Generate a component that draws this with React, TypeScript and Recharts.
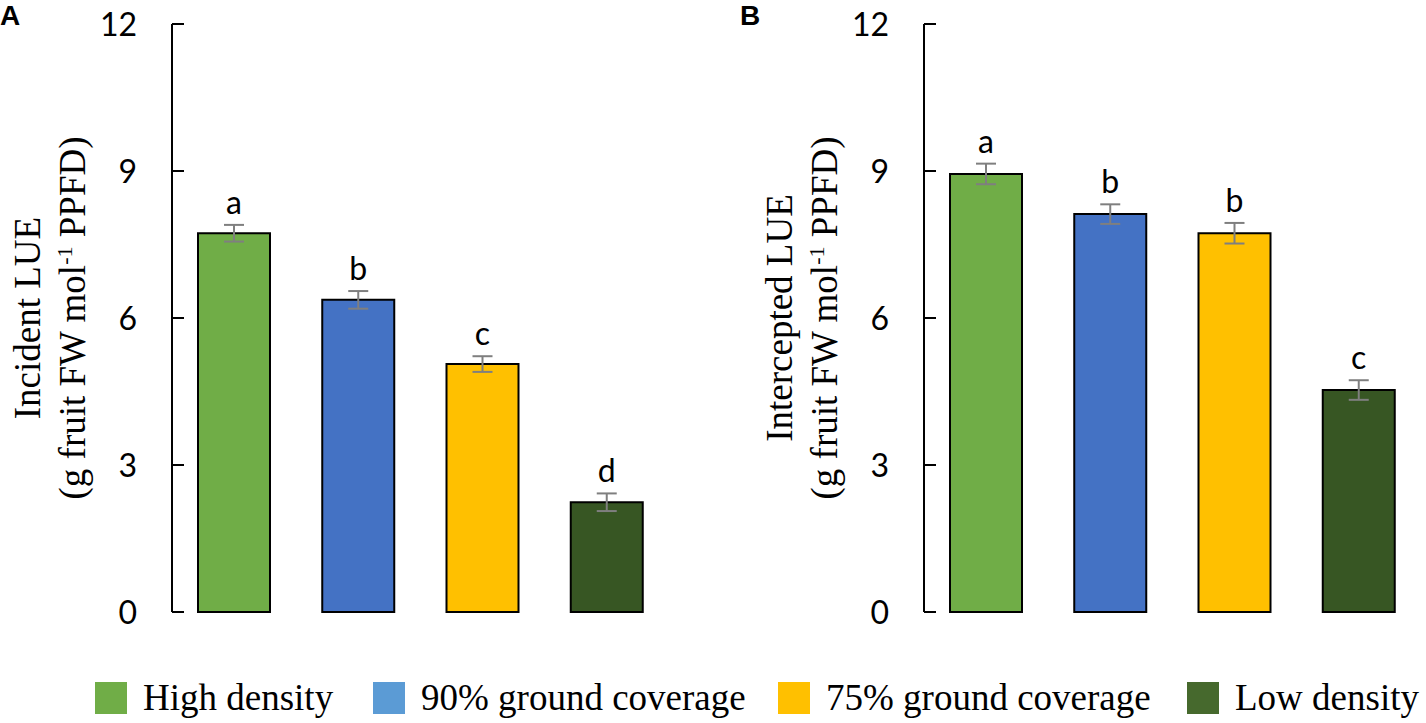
import { Bar, BarChart, Cell, ErrorBar, LabelList, XAxis, YAxis } from "recharts";

const categories = ["High density", "90% ground coverage", "75% ground coverage", "Low density"];
const barColors = ["#70ad47", "#4472c4", "#ffc000", "#375623"];
const legendColors = ["#70ad47", "#5b9bd5", "#ffc000", "#46692d"];

const incidentLue = [7.73, 6.37, 5.06, 2.24];
const incidentErr = [0.17, 0.18, 0.16, 0.18];
const incidentLetters = ["a", "b", "c", "d"];

const interceptedLue = [8.94, 8.12, 7.73, 4.53];
const interceptedErr = [0.21, 0.2, 0.21, 0.2];
const interceptedLetters = ["a", "b", "b", "c"];

const yTicks = [0, 3, 6, 9, 12];

const SANS = "Lato, 'Open Sans', sans-serif";
const SERIF = "'Liberation Serif', 'DejaVu Serif', serif";

type Row = { name: string; value: number; err: number; letter: string };

function buildRows(values: number[], errs: number[], letters: string[]): Row[] {
  return categories.map((name, i) => ({ name, value: values[i], err: errs[i], letter: letters[i] }));
}

function InwardTick(props: any) {
  const { x, y, payload } = props;
  return (
    <g>
      <line x1={x} x2={x + 12} y1={y} y2={y} stroke="#000" strokeWidth={2} />
      <text x={x - 35} y={y} dy="0.36em" textAnchor="end" fontFamily={SANS} fontSize={32} fill="#000">
        {payload.value}
      </text>
    </g>
  );
}

function Panel({ rows, title }: { rows: Row[]; title: string }) {
  const renderLetter = (props: any) => {
    const { x, y, width, height, index } = props;
    const row = rows[index];
    const pxPerUnit = Number(height) / row.value;
    const errTop = Number(y) - row.err * pxPerUnit;
    return (
      <text
        x={Number(x) + Number(width) / 2}
        y={errTop - 11}
        textAnchor="middle"
        fontFamily={SANS}
        fontSize={32}
        fill="#000"
      >
        {row.letter}
      </text>
    );
  };

  const renderTitle = (props: any) => {
    const { viewBox } = props;
    const cy = viewBox.y + viewBox.height / 2;
    return (
      <g fontFamily={SERIF} fontSize={37} fill="#000">
        <text x={40} y={cy} textAnchor="middle" transform={`rotate(-90 40 ${cy})`}>
          {title}
        </text>
        <text x={85} y={cy} textAnchor="middle" transform={`rotate(-90 85 ${cy})`}>
          (g fruit FW mol
          <tspan dy={-13} fontSize={22}>-1</tspan>
          <tspan dy={13}> PPFD)</tspan>
        </text>
      </g>
    );
  };

  return (
    <BarChart width={700} height={660} data={rows} margin={{ top: 24, right: 31, bottom: 48, left: 0 }}>
      <XAxis
        dataKey="name"
        tick={false}
        tickLine={false}
        height={0}
        axisLine={{ stroke: "#000", strokeWidth: 2 }}
      />
      <YAxis
        width={172}
        domain={[0, 12]}
        ticks={yTicks}
        interval={0}
        tickSize={0}
        tickMargin={0}
        tickLine={false}
        tick={<InwardTick />}
        axisLine={{ stroke: "#000", strokeWidth: 2 }}
        label={{ content: renderTitle }}
      />
      <Bar dataKey="value" barSize={72} stroke="#000" strokeWidth={2} isAnimationActive={false}>
        {rows.map((row, i) => (
          <Cell key={row.name} fill={barColors[i]} />
        ))}
        <ErrorBar dataKey="err" width={10} stroke="#7f7f7f" strokeWidth={2} direction="y" isAnimationActive={false} />
        <LabelList dataKey="letter" content={renderLetter} />
      </Bar>
    </BarChart>
  );
}

const legendX = [95, 373, 778, 1187];

export default function App() {
  const incidentRows = buildRows(incidentLue, incidentErr, incidentLetters);
  const interceptedRows = buildRows(interceptedLue, interceptedErr, interceptedLetters);

  return (
    <div style={{ position: "absolute", left: 0, top: 0, width: 1426, height: 723, background: "#fff", overflow: "hidden" }}>
      <div style={{ position: "absolute", left: 0, top: 0 }}>
        <Panel rows={incidentRows} title="Incident LUE" />
      </div>
      <div style={{ position: "absolute", left: 752, top: 0 }}>
        <Panel rows={interceptedRows} title="Intercepted LUE" />
      </div>
      <svg width={1426} height={723} style={{ position: "absolute", left: 0, top: 0, pointerEvents: "none" }}>
        <text x={0} y={25} fontFamily="'Liberation Sans', Arial, sans-serif" fontWeight="bold" fontSize={28}>A</text>
        <text x={740} y={25} fontFamily="'Liberation Sans', Arial, sans-serif" fontWeight="bold" fontSize={28}>B</text>
        {categories.map((name, i) => (
          <g key={name}>
            <rect x={legendX[i]} y={682} width={32} height={32} fill={legendColors[i]} />
            <text x={legendX[i] + 48} y={710} fontFamily={SERIF} fontSize={37} fill="#000">
              {name}
            </text>
          </g>
        ))}
      </svg>
    </div>
  );
}
